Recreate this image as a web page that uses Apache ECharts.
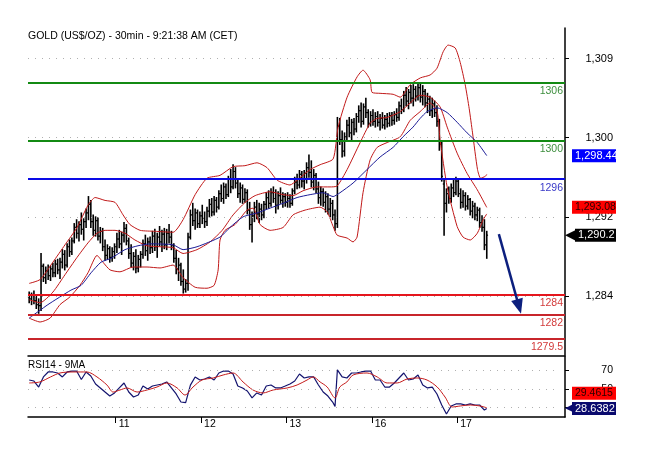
<!DOCTYPE html>
<html><head><meta charset="utf-8">
<script src="https://cdn.jsdelivr.net/npm/echarts@6/dist/echarts.min.js"></script>
<style>html,body{margin:0;padding:0;background:#fff}#c{width:650px;height:459px}</style>
</head><body><div id="c"></div>
<script>
// ---------------- DATA ----------------
const titleText = 'GOLD (US$/OZ) - 30min - 9:21:38 AM (CET)';
const rsiTitle = 'RSI14 - 9MA';
const days = ['11', '12', '13', '16', '17'];
const dayStartBars = [37, 73, 109, 145, 181];

// 30-min OHLC bars: [open, high, low, close]
const day10 = [
[1283.8,1284.3,1283.2,1283.6],[1283.6,1284.2,1283.0,1284.0],[1284.0,1284.4,1283.1,1283.4],[1283.4,1283.9,1282.6,1283.0],
[1283.0,1283.6,1282.1,1282.9],[1282.9,1288.3,1282.4,1287.0],[1287.0,1287.2,1285.4,1285.8],[1285.8,1286.9,1285.2,1286.5],
[1286.5,1287.1,1285.6,1286.0],[1286.0,1287.0,1285.5,1286.7],[1286.7,1287.3,1285.9,1286.3],[1286.3,1287.6,1285.9,1287.2],
[1287.2,1287.7,1286.2,1286.6],[1286.6,1287.8,1285.7,1287.4],[1287.4,1288.7,1286.8,1288.2],[1288.2,1288.6,1286.6,1287.1],
[1287.1,1289.3,1286.9,1289.0],[1289.0,1289.7,1288.0,1288.5],[1288.5,1289.9,1288.2,1289.6],[1289.6,1291.4,1289.4,1291.0],
[1291.0,1291.8,1289.9,1290.4],[1290.4,1291.6,1289.6,1291.3],[1291.3,1292.5,1290.3,1290.8],[1290.8,1291.9,1289.7,1291.6],
[1291.6,1292.9,1291.0,1292.5],[1292.5,1294.2,1291.8,1293.4],[1293.4,1293.8,1291.0,1291.6],[1291.6,1292.3,1290.2,1290.7],
[1290.7,1292.1,1290.1,1291.7],[1291.7,1292.0,1289.7,1290.1],[1290.1,1291.0,1289.4,1290.6],[1290.6,1290.9,1288.6,1289.0],
[1289.0,1289.7,1287.6,1288.1],[1288.1,1289.2,1287.7,1288.8],[1288.8,1289.0,1287.4,1287.9],[1287.9,1288.9,1287.5,1288.5],
[1288.5,1289.3,1287.8,1289.0]
];
const day11 = [
[1289.0,1290.4,1288.4,1289.8],[1289.8,1290.7,1288.9,1289.3],[1289.3,1290.5,1288.2,1290.2],[1290.2,1291.5,1289.5,1290.9],
[1290.9,1291.3,1289.2,1289.6],[1289.6,1289.9,1287.8,1288.3],[1288.3,1289.2,1286.9,1287.3],[1287.3,1288.4,1286.6,1288.0],
[1288.0,1288.7,1286.3,1286.8],[1286.8,1288.1,1286.4,1287.7],[1287.7,1288.5,1286.9,1288.2],[1288.2,1289.7,1287.8,1289.3],
[1289.3,1290.2,1288.1,1288.6],[1288.6,1289.9,1287.6,1289.5],[1289.5,1290.0,1288.3,1288.9],[1288.9,1290.6,1288.4,1290.1],
[1290.1,1290.8,1288.6,1289.0],[1289.0,1290.4,1287.9,1290.0],[1290.0,1291.1,1289.1,1289.5],[1289.5,1290.7,1288.5,1290.3],
[1290.3,1290.9,1288.8,1289.2],[1289.2,1290.8,1288.7,1290.4],[1290.4,1291.3,1289.4,1290.0],[1290.0,1290.6,1288.7,1289.1],
[1289.1,1289.3,1287.4,1287.8],[1287.8,1288.6,1286.2,1286.7],[1286.7,1287.8,1285.5,1287.1],[1287.1,1287.3,1285.0,1285.4],
[1285.4,1286.6,1284.2,1284.6],[1284.6,1285.6,1284.3,1285.2],[1285.2,1290.4,1284.5,1290.0],[1290.0,1292.8,1289.8,1292.3],
[1292.3,1293.5,1291.2,1291.7],[1291.7,1292.9,1290.8,1292.5],[1292.5,1292.8,1291.0,1291.4],[1291.4,1292.6,1291.0,1292.2]
];
const day12 = [
[1292.2,1293.3,1291.4,1292.0],[1292.0,1292.6,1291.0,1291.6],[1291.6,1293.1,1291.2,1292.7],[1292.7,1293.9,1292.1,1293.4],
[1293.4,1294.0,1292.2,1292.6],[1292.6,1294.2,1292.3,1293.8],[1293.8,1294.1,1292.6,1293.1],[1293.1,1294.8,1292.9,1294.5],
[1294.5,1295.4,1293.7,1294.0],[1294.0,1295.6,1293.5,1295.2],[1295.2,1295.5,1294.0,1294.4],[1294.4,1296.3,1294.2,1296.0],
[1296.0,1297.0,1294.6,1295.2],[1295.2,1297.5,1295.0,1296.8],[1296.8,1297.2,1295.1,1295.6],[1295.6,1295.9,1294.1,1294.5],
[1294.5,1295.6,1293.6,1295.1],[1295.1,1295.4,1293.5,1293.9],[1293.9,1295.0,1293.6,1294.6],[1294.6,1294.9,1292.4,1292.8],
[1292.8,1293.6,1290.8,1291.3],[1291.3,1292.6,1289.5,1292.2],[1292.2,1293.6,1291.6,1293.1],[1293.1,1293.8,1291.9,1292.4],
[1292.4,1293.5,1291.5,1292.9],[1292.9,1293.4,1291.8,1292.3],[1292.3,1293.7,1292.0,1293.4],[1293.4,1294.6,1292.9,1294.1],
[1294.1,1294.8,1293.0,1293.5],[1293.5,1295.0,1293.2,1294.6],[1294.6,1295.2,1293.6,1294.0],[1294.0,1294.9,1292.5,1293.3],
[1293.3,1294.7,1292.9,1294.3],[1294.3,1295.1,1293.5,1293.8],[1293.8,1294.6,1293.1,1294.2],[1294.2,1294.5,1293.2,1293.6]
];
const day13 = [
[1293.6,1294.6,1293.1,1294.0],[1294.0,1294.4,1293.1,1293.5],[1293.5,1295.0,1293.3,1294.8],[1294.8,1296.2,1294.5,1295.7],
[1295.7,1296.5,1295.0,1295.4],[1295.4,1296.9,1295.1,1296.5],[1296.5,1296.8,1295.2,1295.8],[1295.8,1296.9,1295.0,1296.6],
[1296.6,1297.7,1295.6,1297.2],[1297.2,1298.5,1296.2,1296.7],[1296.7,1297.9,1295.2,1295.7],[1295.7,1297.0,1294.9,1296.4],
[1296.4,1296.6,1294.6,1295.0],[1295.0,1295.7,1293.5,1294.1],[1294.1,1295.2,1293.3,1294.7],[1294.7,1295.0,1293.2,1293.6],
[1293.6,1294.7,1292.6,1294.2],[1294.2,1294.5,1292.4,1292.9],[1292.9,1294.0,1292.1,1293.5],[1293.5,1293.8,1291.8,1292.3],
[1292.3,1292.8,1290.7,1291.4],[1291.4,1302.4,1291.0,1301.5],[1301.5,1302.3,1299.6,1300.1],[1300.1,1301.0,1298.3,1298.9],
[1298.9,1300.8,1298.4,1300.4],[1300.4,1302.1,1300.0,1301.6],[1301.6,1302.4,1300.4,1300.8],[1300.8,1302.2,1300.0,1301.9],
[1301.9,1302.3,1300.6,1301.2],[1301.2,1302.8,1300.9,1302.5],[1302.5,1303.6,1301.9,1303.1],[1303.1,1303.9,1301.4,1302.0],
[1302.0,1303.8,1301.7,1303.5],[1303.5,1304.4,1302.4,1302.9],[1302.9,1303.2,1301.4,1301.8],[1301.8,1303.0,1301.5,1302.6]
];
const day16 = [
[1302.6,1303.2,1301.6,1302.0],[1302.0,1302.9,1301.4,1302.5],[1302.5,1303.0,1301.5,1301.9],[1301.9,1302.7,1301.1,1302.3],
[1302.3,1302.9,1301.3,1301.6],[1301.6,1302.6,1301.2,1302.2],[1302.2,1302.8,1301.4,1301.8],[1301.8,1302.9,1301.5,1302.6],
[1302.6,1302.9,1301.6,1302.1],[1302.1,1303.0,1301.7,1302.7],[1302.7,1303.3,1302.0,1302.4],[1302.4,1304.0,1302.1,1303.6],
[1303.6,1304.3,1302.8,1303.2],[1303.2,1305.1,1303.0,1304.7],[1304.7,1305.5,1303.6,1304.1],[1304.1,1305.3,1303.3,1305.0],
[1305.0,1305.7,1303.9,1304.4],[1304.4,1305.8,1303.6,1305.3],[1305.3,1305.6,1304.1,1304.6],[1304.6,1306.0,1304.2,1305.5],
[1305.5,1305.9,1304.0,1304.5],[1304.5,1305.7,1303.7,1305.1],[1305.1,1305.3,1303.5,1303.9],[1303.9,1304.9,1302.9,1304.3],
[1304.3,1304.6,1302.6,1303.1],[1303.1,1304.4,1302.4,1303.8],[1303.8,1304.1,1302.5,1302.9],[1302.9,1303.6,1301.5,1302.0],
[1302.0,1302.2,1299.0,1299.6],[1299.6,1300.0,1295.8,1296.3],[1295.5,1296.0,1290.2,1293.5],[1293.5,1295.0,1292.6,1294.5],
[1294.5,1295.2,1293.5,1294.0],[1294.0,1295.5,1293.6,1295.1],[1295.1,1295.9,1294.2,1294.6],[1294.6,1296.2,1294.4,1295.8]
];
const day17 = [
[1295.8,1296.0,1294.2,1294.5],[1294.5,1295.0,1293.0,1293.6],[1293.6,1294.8,1293.1,1294.3],[1294.3,1294.6,1292.8,1293.2],
[1293.2,1294.3,1292.9,1293.9],[1293.9,1294.0,1292.3,1292.7],[1292.7,1293.7,1292.0,1293.2],[1293.2,1293.5,1291.8,1292.3],
[1292.3,1293.1,1291.7,1292.8],[1292.8,1293.0,1291.0,1291.5],[1291.5,1292.2,1290.6,1291.0],[1291.0,1291.8,1288.7,1289.2],
[1289.2,1290.6,1287.8,1290.2]
];

// Bollinger bands and moving average: [bar index, price]
const upperBand = [[0,1285.2],[4.6,1285.6],[10,1287.4],[15.1,1289.2],[20.2,1291.0],[24.8,1293.3],[27.8,1294.1],[32,1293.8],[36.2,1293.6],[39.6,1292.3],[42.5,1291.3],[46.8,1290.7],[53.1,1290.6],[60.7,1290.5],[64.9,1291.8],[70,1294.4],[75,1296.1],[80.5,1296.4],[86,1297.3],[91,1297.4],[96.1,1297.7],[100.3,1297.2],[104.6,1295.9],[110,1295.4],[113,1295.9],[118.5,1297.0],[122.7,1297.5],[128.2,1298.1],[130.3,1301.4],[134.1,1304.5],[138.3,1306.6],[140.8,1307.3],[143.8,1306.3],[144.6,1305.0],[148,1304.9],[153.5,1304.8],[156.5,1304.5],[160.7,1305.8],[165,1306.5],[169.1,1306.8],[172,1307.5],[174.6,1309.2],[176.7,1309.9],[179.7,1309.6],[181.8,1308.1],[183.9,1305.8],[185.6,1303.3],[187,1300.8],[189.1,1297.0],[190.4,1296.1],[192.4,1296.3],[193,1296.5]];
const midBand = [[0,1283.5],[4.6,1283.2],[10,1284.3],[15.1,1286.1],[20.2,1287.9],[24.8,1289.4],[28.6,1290.4],[32,1290.7],[36.2,1290.7],[40.4,1290.4],[44.6,1289.7],[49.7,1289.1],[55.2,1289.0],[60.7,1288.9],[64.9,1288.3],[70.8,1288.7],[76.3,1289.5],[81.4,1290.7],[86,1292.3],[91.1,1293.6],[95.3,1294.3],[101.6,1294.7],[107.1,1294.4],[111.3,1294.3],[115.5,1294.8],[121.4,1295.2],[126.9,1295.2],[129.9,1295.3],[134.1,1297.0],[139.6,1299.8],[143.8,1301.8],[146.8,1302.3],[151,1302.4],[156.5,1303.0],[160.7,1303.9],[164.9,1304.7],[169.1,1304.5],[173.3,1303.5],[176.3,1301.4],[180.5,1298.7],[184.7,1296.6],[189,1294.9],[193,1293.08]];
const lowerBand = [[0,1281.6],[4.6,1281.2],[8.8,1281.6],[13,1283.0],[17.2,1283.8],[21.4,1285.0],[24.8,1286.3],[28.6,1288.1],[31.1,1287.4],[34.1,1286.6],[38.3,1286.4],[43.8,1286.9],[49.7,1286.9],[55.2,1286.8],[60.7,1287.1],[64.9,1285.8],[70,1284.8],[75,1284.7],[78,1285.0],[79.7,1286.6],[80.5,1289.7],[82.6,1290.7],[86.8,1291.3],[91.9,1292.8],[94.4,1293.0],[97.4,1291.3],[101.6,1290.7],[107.1,1291.0],[111.3,1292.3],[116.4,1292.8],[122.7,1293.1],[125.7,1292.6],[128.2,1291.1],[129.9,1290.2],[134.1,1289.9],[136.6,1289.5],[138.3,1290.0],[140.8,1294.6],[143.8,1298.0],[146.8,1299.3],[151,1299.8],[156.5,1300.4],[160.7,1302.1],[164.9,1303.0],[169.1,1303.9],[172.1,1303.0],[173.3,1300.1],[176.3,1295.2],[180.5,1291.1],[183,1290.0],[186,1289.7],[189,1290.4],[191.5,1291.8],[193,1292.4]];
const movingAvg = [[0,1281.6],[7.9,1283.0],[17.6,1284.5],[21.9,1285.0],[26.1,1286.3],[30.3,1287.4],[34.5,1287.8],[40.4,1288.7],[45.9,1289.1],[51,1289.3],[60.7,1289.2],[64.9,1288.7],[70.8,1289.0],[80.5,1290.0],[84.7,1291.0],[90.2,1292.1],[96.1,1292.5],[101.6,1293.0],[107.1,1293.5],[113,1294.1],[118.5,1294.4],[124,1294.6],[128.2,1294.2],[131.1,1294.6],[136.6,1295.6],[142.5,1297.0],[148,1298.3],[153.5,1299.3],[157.7,1300.4],[161.9,1301.4],[164.9,1302.3],[167.8,1303.0],[172.1,1303.4],[176.3,1302.9],[180.5,1301.9],[184.7,1300.8],[189,1299.8],[193,1298.44]];

// RSI14 and its 9MA: [bar index, value]
const rsi = [[0,59.5],[2,58.4],[4,51.9],[6,62.8],[8,68.2],[10,68.2],[12,67.1],[14,62.8],[16,68.2],[18,69.2],[20,69.2],[22,60],[24,68.2],[26,63.8],[28,55.2],[30,50.9],[32,46.5],[34,42.2],[36,45.5],[38,50.9],[40,56.3],[42,46.5],[44,41.1],[46,43.3],[48,53],[50,49.8],[52,53],[54,54.1],[56,55.2],[58,57.4],[60,50.9],[62,44.4],[64,35.7],[66,35],[68,54],[70,62.8],[72,59.5],[74,60.6],[76,62.8],[78,59.5],[80,67.1],[82,69.2],[84,69.2],[86,66],[88,53],[90,50.9],[92,47.6],[94,40.1],[96,45.5],[98,43.3],[100,53],[102,54.1],[104,50.9],[106,50.9],[108,53],[110,55.2],[112,58.4],[114,66],[116,61.7],[118,62.8],[120,62.8],[122,54.1],[124,46.5],[126,42.2],[128,35.7],[129,31],[130,70.5],[132,62.8],[134,61.7],[136,67.1],[138,67.1],[140,68.2],[142,69.2],[144,69.2],[146,59.5],[148,59.5],[150,51.9],[152,51.9],[154,56.3],[156,61.7],[158,67.1],[160,59.5],[162,60.6],[164,64.9],[166,54.1],[168,50.9],[170,51.9],[172,44.4],[174,32.5],[176,22.7],[178,31.4],[180,33.6],[182,33.6],[184,32.5],[186,33.6],[188,32.5],[190,32.5],[192,27],[193,28.6382]];
const rsiMa = [[0,56.3],[4.5,57.4],[9,62.8],[13,67.1],[18.5,68.2],[24.4,68.2],[28.6,62.8],[32.8,54.1],[35.4,46.5],[38.3,48.7],[41.3,50.9],[45.5,46.5],[49.7,48.7],[53.9,51.9],[58.1,56.3],[62.4,50.9],[65.7,43.3],[69.1,51.9],[72.9,59.5],[77.6,61.7],[81.8,64.9],[86,67.1],[90.2,57.4],[94.4,48.7],[98.7,45.5],[102.9,48.7],[108.8,50.9],[113,54.1],[117.2,59.5],[119.8,62.8],[122.7,57.4],[125.7,51.9],[129,40.1],[131,51.9],[134,57.4],[136.6,64.9],[142.5,67.1],[146.8,62.8],[151,56.3],[155.2,56.3],[159.4,60.6],[163.6,61.7],[167.8,59.5],[172.1,51.9],[175.4,41.1],[178.4,30.3],[181.8,31.4],[186,32.5],[190.2,31.4],[193,29.4615]];

// horizontal levels, tick labels, last values, arrow
const levels = [1306, 1300, 1296, 1284, 1282, 1279.5];
const levelLabels = ['1306', '1300', '1296', '1284', '1282', '1279.5'];
const priceTicks = [1283.85, 1292.1, 1300.3, 1308.5];
const priceTickLabels = ['1,284', '1,292', '1,300', '1,309'];
const rsiTicks = [30, 50, 70];
const rsiTickLabels = ['30', '50', '70'];
const maLast = 1298.44, midLast = 1293.08, lastClose = 1290.2;
const rsiLast = 28.6382, rsiMaLast = 29.4615;
const arrowFrom = [198.1, 1290.3];
const arrowTo = [206.6, 1282.8];

// ---------------- CHART ----------------
const bars = [...day10, ...day11, ...day12, ...day13, ...day16, ...day17];
const barData = bars.map((b, i) => [i, b[0], b[1], b[2], b[3]]);
const dayTicks = dayStartBars.map(b => b - 0.5);

const X_MIN = -0.5, X_MAX = 226;
const P_MIN = 1277.78, P_MAX = 1311.67;
const R_MIN = 19.5, R_MAX = 85.46;
const RSI_TAG_SHIFT = 15.6; // red RSI tag is drawn above the navy tag
const FONT = '"Liberation Sans", Arial, sans-serif';
const near = (a, b) => Math.abs(a - b) < 1e-6;
const fmt = (v, d) => v.toLocaleString('en-US', {minimumFractionDigits: d, maximumFractionDigits: d});

const levelColors = ['#138a13', '#138a13', '#0a0ae6', '#e5161d', '#c8252b', '#c8252b'];
const levelTextColors = ['#3f8f3f', '#3f8f3f', '#3a3ac8', '#d23a3a', '#d23a3a', '#d23a3a'];
const dotted = {color: '#b0b0b0', type: [1, 6], width: 1};

const tagBox = {color: '#fff', fontSize: 11, fontFamily: FONT, width: 41, height: 13, lineHeight: 13, padding: [0, 0, 0, 3]};
const redBox = Object.assign({}, tagBox, {backgroundColor: '#ff0000', color: '#2a0000', fontSize: 10.5});

const option = {
  animation: false,
  textStyle: {fontFamily: FONT},
  title: [
    {text: titleText, left: 28, top: 31, padding: 0, textStyle: {fontSize: 10.5, fontWeight: 'normal', color: '#000', fontFamily: FONT}},
    {text: rsiTitle, left: 28, top: 360, padding: 0, textStyle: {fontSize: 10, fontWeight: 'normal', color: '#000', fontFamily: FONT}}
  ],
  grid: [
    {left: 28, right: 85, top: 28, height: 327},
    {left: 28, right: 85, top: 356, height: 61}
  ],
  xAxis: [
    {gridIndex: 0, type: 'value', min: X_MIN, max: X_MAX, show: false},
    {gridIndex: 1, type: 'value', min: X_MIN, max: X_MAX, position: 'bottom',
      axisLine: {show: true, onZero: false, lineStyle: {color: '#000', width: 1.5}},
      axisTick: {show: true, customValues: dayTicks, length: 6, lineStyle: {color: '#000', width: 1}},
      axisLabel: {customValues: dayTicks, formatter: v => days[dayTicks.findIndex(t => near(t, v))] || '',
        align: 'left', padding: [0, 0, 0, 3], margin: 2, fontSize: 10.5, color: '#000'},
      splitLine: {show: false}},
    {gridIndex: 1, type: 'value', min: X_MIN, max: X_MAX, position: 'top',
      axisLine: {show: true, onZero: false, lineStyle: {color: '#000', width: 1.5}},
      axisTick: {show: false}, axisLabel: {show: false}, splitLine: {show: false}}
  ],
  yAxis: [
    {gridIndex: 0, type: 'value', position: 'right', min: P_MIN, max: P_MAX,
      axisLine: {show: true, onZero: false, lineStyle: {color: '#000', width: 1.5}},
      axisTick: {show: true, customValues: priceTicks, length: 4, lineStyle: {color: '#000'}},
      axisLabel: {customValues: priceTicks, formatter: v => priceTickLabels[priceTicks.findIndex(t => near(t, v))] || '',
        align: 'right', margin: 48, fontSize: 11, color: '#000'},
      splitLine: {show: false}},
    {gridIndex: 0, type: 'value', position: 'right', min: P_MIN, max: P_MAX,
      axisLine: {show: false, onZero: false}, axisTick: {show: false}, splitLine: {show: false},
      axisLabel: {customValues: [maLast, midLast, lastClose], margin: 0,
        formatter: v => near(v, maLast) ? `{sp| }{bl|${fmt(maLast, 2)}}`
          : near(v, midLast) ? `{sp| }{rd|${fmt(midLast, 2)}}`
          : `{ar|◀}{bk|${fmt(lastClose, 1)}}`,
        rich: {
          sp: {width: 7, fontSize: 11},
          bl: Object.assign({}, tagBox, {backgroundColor: '#0000ff'}),
          rd: redBox,
          ar: {color: '#000', fontSize: 14, fontFamily: '"DejaVu Sans"', width: 10, lineHeight: 13},
          bk: Object.assign({}, tagBox, {backgroundColor: '#000', width: 38})
        }}},
    {gridIndex: 1, type: 'value', position: 'right', min: R_MIN, max: R_MAX,
      axisLine: {show: true, onZero: false, lineStyle: {color: '#000', width: 1.5}},
      axisTick: {show: true, customValues: rsiTicks, length: 4, lineStyle: {color: '#000'}},
      axisLabel: {customValues: rsiTicks, formatter: v => rsiTickLabels[rsiTicks.findIndex(t => near(t, v))] || '',
        align: 'right', margin: 48, fontSize: 10.5, color: '#000'},
      splitLine: {show: false}},
    {gridIndex: 1, type: 'value', position: 'right', min: R_MIN, max: R_MAX,
      axisLine: {show: false, onZero: false}, axisTick: {show: false}, splitLine: {show: false},
      axisLabel: {customValues: [rsiLast, rsiMaLast + RSI_TAG_SHIFT], margin: 0,
        formatter: v => near(v, rsiLast) ? `{ar|◀}{nv|${fmt(rsiLast, 4)}}` : `{sp| }{rd|${fmt(rsiMaLast, 4)}}`,
        rich: {
          sp: {width: 7, fontSize: 11},
          ar: {color: '#0a0a6e', fontSize: 11, fontFamily: '"DejaVu Sans"', width: 7, lineHeight: 13},
          nv: Object.assign({}, tagBox, {backgroundColor: '#0a0a6e'}),
          rd: redBox
        }}}
  ],
  series: [
    {name: 'grid', type: 'line', xAxisIndex: 0, yAxisIndex: 0, data: [], z: 1, silent: true,
      markLine: {silent: true, symbol: ['none', 'none'], animation: false,
        data: priceTicks.map(v => [{coord: [X_MIN, v], lineStyle: dotted, label: {show: false}}, {coord: [222, v]}])
          .concat(levels.map((v, k) => ({yAxis: v, lineStyle: {color: levelColors[k], width: 2, type: 'solid'},
            label: {show: true, formatter: levelLabels[k], position: 'insideEndBottom', color: levelTextColors[k],
              fontSize: 10.5, fontFamily: FONT, distance: [2, 3]}})))}},
    {name: 'bars', type: 'custom', xAxisIndex: 0, yAxisIndex: 0, data: barData, z: 2,
      encode: {x: 0, y: [1, 2, 3, 4]},
      renderItem: (params, api) => {
        const i = api.value(0);
        const po = api.coord([i, api.value(1)]), ph = api.coord([i, api.value(2)]);
        const pl = api.coord([i, api.value(3)]), pc = api.coord([i, api.value(4)]);
        const w = api.size([1, 0])[0] * 0.55;
        const st = {stroke: '#000', lineWidth: 1.6};
        return {type: 'group', children: [
          {type: 'line', shape: {x1: ph[0], y1: ph[1] - 0.5, x2: pl[0], y2: pl[1] + 0.5}, style: st},
          {type: 'line', shape: {x1: po[0] - w, y1: po[1], x2: po[0], y2: po[1]}, style: {stroke: '#000', lineWidth: 1.2}},
          {type: 'line', shape: {x1: pc[0], y1: pc[1], x2: pc[0] + w, y2: pc[1]}, style: {stroke: '#000', lineWidth: 1.2}}
        ]};
      }},
    {name: 'upper', type: 'line', xAxisIndex: 0, yAxisIndex: 0, data: upperBand, smooth: 0.2, showSymbol: false, z: 3,
      lineStyle: {color: '#c01818', width: 1}},
    {name: 'mid', type: 'line', xAxisIndex: 0, yAxisIndex: 0, data: midBand, smooth: 0.2, showSymbol: false, z: 3,
      lineStyle: {color: '#c01818', width: 1}},
    {name: 'lower', type: 'line', xAxisIndex: 0, yAxisIndex: 0, data: lowerBand, smooth: 0.2, showSymbol: false, z: 3,
      lineStyle: {color: '#c01818', width: 1}},
    {name: 'ma', type: 'line', xAxisIndex: 0, yAxisIndex: 0, data: movingAvg, smooth: 0.2, showSymbol: false, z: 3,
      lineStyle: {color: '#1b1b96', width: 1}},
    {name: 'arrow', type: 'line', xAxisIndex: 0, yAxisIndex: 0, data: [], z: 4, silent: true,
      markLine: {silent: true, symbol: ['none', 'triangle'], symbolSize: [12, 15], animation: false,
        lineStyle: {color: '#0c1f7e', width: 2.5, type: 'solid'}, label: {show: false},
        data: [[{coord: arrowFrom}, {coord: arrowTo}]]}},
    {name: 'rsiGrid', type: 'line', xAxisIndex: 1, yAxisIndex: 2, data: [], z: 1, silent: true,
      markLine: {silent: true, symbol: ['none', 'none'], animation: false, label: {show: false},
        data: rsiTicks.map(v => [{coord: [X_MIN, v], lineStyle: dotted}, {coord: [222, v]}])}},
    {name: 'rsi', type: 'line', xAxisIndex: 1, yAxisIndex: 2, data: rsi, showSymbol: false, z: 3,
      lineStyle: {color: '#13136e', width: 1.2}},
    {name: 'rsiMa', type: 'line', xAxisIndex: 1, yAxisIndex: 2, data: rsiMa, smooth: 0.3, showSymbol: false, z: 3,
      lineStyle: {color: '#c41a1a', width: 1}}
  ]
};
const chart = echarts.init(document.getElementById('c'));
chart.setOption(option);
</script>
</body></html>
